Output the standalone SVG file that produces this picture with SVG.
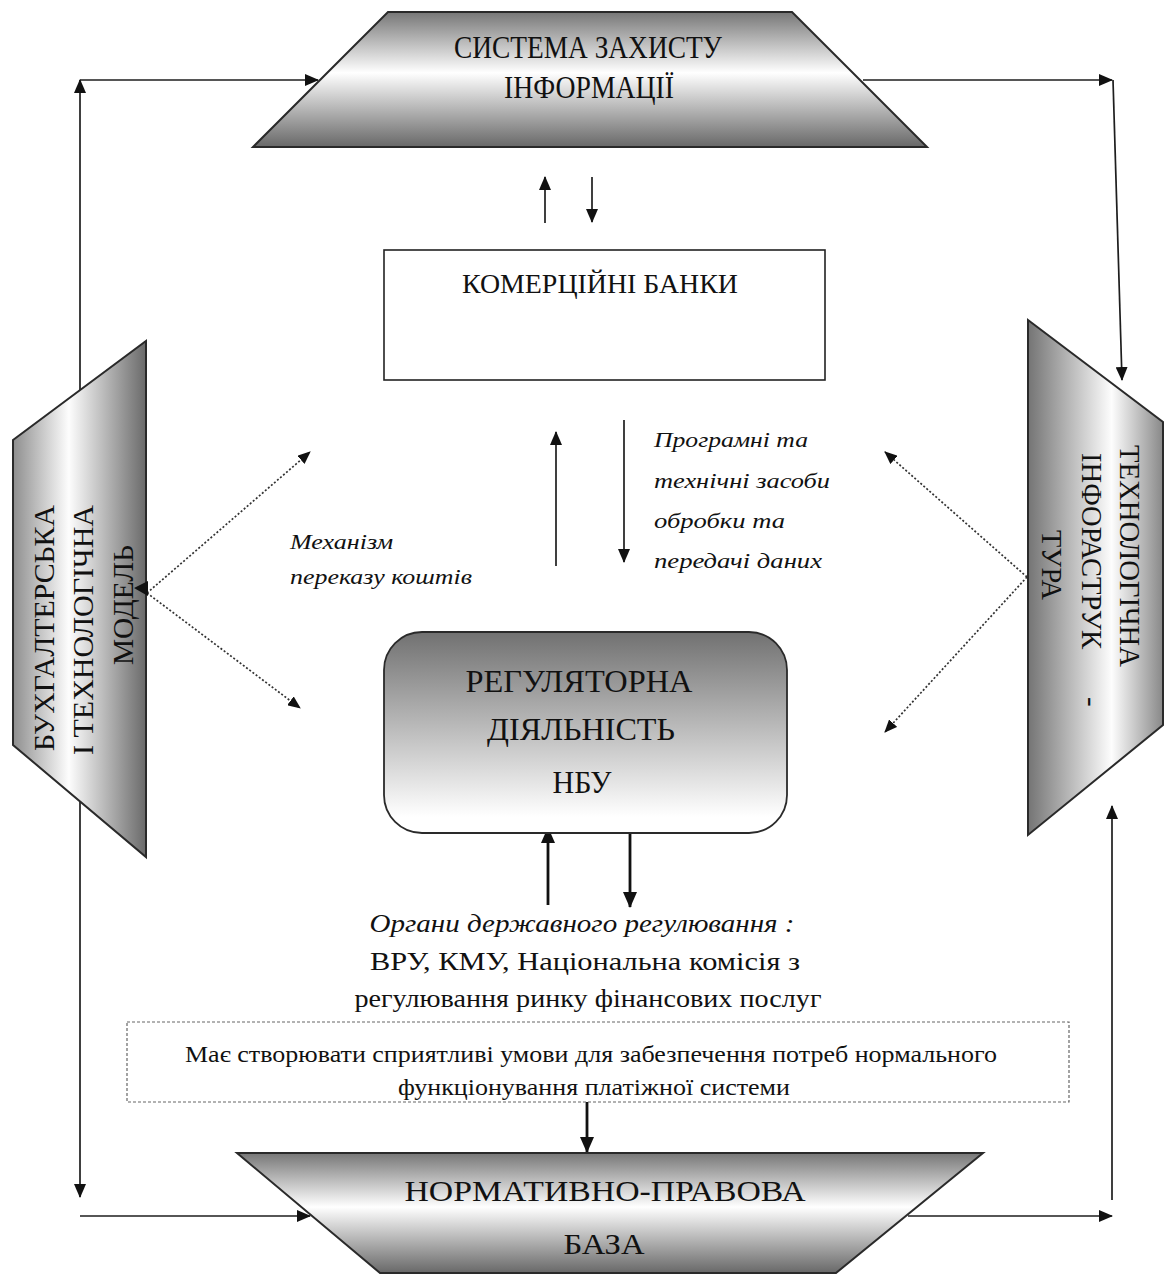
<svg xmlns="http://www.w3.org/2000/svg" width="1172" height="1276" viewBox="0 0 1172 1276" font-family="'Liberation Serif', 'Times New Roman', 'DejaVu Serif', serif">
<style>
.t{font-family:'Liberation Serif','Times New Roman','DejaVu Serif',serif;fill:#111}
.i{font-style:italic}
.ln{stroke:#1e1e1e;stroke-width:1.7;fill:none}
.bd{stroke:#111;stroke-width:2.8;fill:none}
.dot{stroke:#333;stroke-width:1.7;stroke-dasharray:2 2;fill:none}
.shp{stroke:#2a2a2a;stroke-width:2}
</style>
<defs>
<linearGradient id="gV" x1="0" y1="0" x2="0" y2="1">
<stop offset="0" stop-color="#777"/><stop offset="0.45" stop-color="#fff"/><stop offset="1" stop-color="#686868"/>
</linearGradient>
<linearGradient id="gL" x1="0" y1="0" x2="1" y2="0">
<stop offset="0" stop-color="#8e8e8e"/><stop offset="0.42" stop-color="#fdfdfd"/><stop offset="1" stop-color="#6a6a6a"/>
</linearGradient>
<linearGradient id="gR" x1="0" y1="0" x2="1" y2="0">
<stop offset="0" stop-color="#747474"/><stop offset="0.62" stop-color="#fdfdfd"/><stop offset="1" stop-color="#888"/>
</linearGradient>
<linearGradient id="gN" x1="0" y1="0" x2="0" y2="1">
<stop offset="0" stop-color="#717171"/><stop offset="0.92" stop-color="#fff"/><stop offset="1" stop-color="#fff"/>
</linearGradient>
<marker id="ah" viewBox="0 0 14 12" refX="13" refY="6" markerWidth="14" markerHeight="12" markerUnits="userSpaceOnUse" orient="auto">
<path d="M0,0 L14,6 L0,12 z" fill="#111"/>
</marker>
<marker id="ahb" viewBox="0 0 16 14" refX="15" refY="7" markerWidth="16" markerHeight="14" markerUnits="userSpaceOnUse" orient="auto">
<path d="M0,0 L16,7 L0,14 z" fill="#111"/>
</marker>
<marker id="ahd" viewBox="0 0 13 11" refX="12" refY="5.5" markerWidth="13" markerHeight="11" markerUnits="userSpaceOnUse" orient="auto">
<path d="M0,0 L13,5.5 L0,11 z" fill="#111"/>
</marker>
</defs>
<rect width="1172" height="1276" fill="#fff"/>

<g id="connectors">
<path class="ln" d="M80,390 L80,80" marker-end="url(#ah)"/>
<path class="ln" d="M80,80 L318,80" marker-end="url(#ah)"/>
<path class="ln" d="M863,80 L1112,80" marker-end="url(#ah)"/>
<path class="ln" d="M1113,80 L1122,380" marker-end="url(#ah)"/>
<path class="ln" d="M80,801 L80,1197" marker-end="url(#ah)"/>
<path class="ln" d="M80,1216 L310,1216" marker-end="url(#ah)"/>
<path class="ln" d="M1112,1200 L1112,806" marker-end="url(#ah)"/>
<path class="ln" d="M908,1216 L1112,1216" marker-end="url(#ah)"/>
<path class="ln" d="M545,223 L545,177" marker-end="url(#ah)"/>
<path class="ln" d="M592,177 L592,222" marker-end="url(#ah)"/>
<path class="ln" d="M556,566 L556,432" marker-end="url(#ah)"/>
<path class="ln" d="M624,420 L624,562" marker-end="url(#ah)"/>
<path class="bd" d="M548,905 L548,828" marker-end="url(#ahb)"/>
<path class="bd" d="M630,830 L630,907" marker-end="url(#ahb)"/>
<path class="bd" d="M587,1102 L587,1152" marker-end="url(#ahb)"/>
<path class="dot" d="M147,593 L310,452" marker-end="url(#ahd)"/>
<path class="dot" d="M147,593 L300,708" marker-end="url(#ahd)"/>
<path class="dot" d="M1027,577 L885,452" marker-end="url(#ahd)"/>
<path class="dot" d="M1027,577 L885,732" marker-end="url(#ahd)"/>
</g>

<g id="node-zakhyst">
<polygon class="shp" points="388,12 792,12 927,147 253,147" fill="url(#gV)"/>
<text class="t" x="588" y="58" font-size="31" text-anchor="middle" textLength="268" lengthAdjust="spacingAndGlyphs">СИСТЕМА ЗАХИСТУ</text>
<text class="t" x="589" y="98" font-size="31" text-anchor="middle" textLength="170" lengthAdjust="spacingAndGlyphs">ІНФОРМАЦІЇ</text>
</g>

<g id="node-banky">
<rect x="384" y="250" width="441" height="130" fill="#fff" stroke="#222" stroke-width="1.6"/>
<text class="t" x="600" y="293" font-size="27" text-anchor="middle" textLength="276" lengthAdjust="spacingAndGlyphs">КОМЕРЦІЙНІ БАНКИ</text>
</g>

<g id="node-bukh">
<polygon class="shp" points="13,440 146,341 146,857 13,745" fill="url(#gL)"/>
<text class="t" transform="translate(54,628) rotate(-90)" font-size="29" text-anchor="middle" textLength="246" lengthAdjust="spacingAndGlyphs">БУХГАЛТЕРСЬКА</text>
<text class="t" transform="translate(93,630) rotate(-90)" font-size="29" text-anchor="middle" textLength="250" lengthAdjust="spacingAndGlyphs">І ТЕХНОЛОГІЧНА</text>
<text class="t" transform="translate(133,605) rotate(-90)" font-size="29" text-anchor="middle" textLength="120" lengthAdjust="spacingAndGlyphs">МОДЕЛЬ</text>
</g>

<g id="node-tekhno">
<polygon class="shp" points="1028,320 1163,422 1163,725 1028,835" fill="url(#gR)"/>
<text class="t" transform="translate(1120,556) rotate(90)" font-size="29" text-anchor="middle" textLength="222" lengthAdjust="spacingAndGlyphs">ТЕХНОЛОГІЧНА</text>
<text class="t" transform="translate(1082,453) rotate(90)" font-size="29"><tspan textLength="196" lengthAdjust="spacingAndGlyphs">ІНФОРАСТРУК</tspan><tspan x="244">-</tspan></text>
<text class="t" transform="translate(1042,565) rotate(90)" font-size="29" text-anchor="middle" textLength="70" lengthAdjust="spacingAndGlyphs">ТУРА</text>
</g>

<g id="node-nbu">
<rect x="384" y="632" width="403" height="201" rx="38" ry="38" fill="url(#gN)" stroke="#2a2a2a" stroke-width="1.8"/>
<text class="t" x="579" y="692" font-size="31" text-anchor="middle" textLength="227" lengthAdjust="spacingAndGlyphs">РЕГУЛЯТОРНА</text>
<text class="t" x="581" y="740" font-size="31" text-anchor="middle" textLength="188" lengthAdjust="spacingAndGlyphs">ДІЯЛЬНІСТЬ</text>
<text class="t" x="582" y="793" font-size="31" text-anchor="middle" textLength="59" lengthAdjust="spacingAndGlyphs">НБУ</text>
</g>

<g id="labels">
<text class="t i" x="654" y="447" font-size="21" textLength="154" lengthAdjust="spacingAndGlyphs">Програмні та</text>
<text class="t i" x="654" y="488" font-size="21" textLength="176" lengthAdjust="spacingAndGlyphs">технічні засоби</text>
<text class="t i" x="654" y="528" font-size="21" textLength="131" lengthAdjust="spacingAndGlyphs">обробки та</text>
<text class="t i" x="654" y="568" font-size="21" textLength="168" lengthAdjust="spacingAndGlyphs">передачі даних</text>
<text class="t i" x="290" y="549" font-size="21" textLength="103" lengthAdjust="spacingAndGlyphs">Механізм</text>
<text class="t i" x="290" y="584" font-size="21" textLength="182" lengthAdjust="spacingAndGlyphs">переказу коштів</text>
</g>

<g id="node-organy">
<text class="t i" x="582" y="932" font-size="25" text-anchor="middle" textLength="425" lengthAdjust="spacingAndGlyphs">Органи державного регулювання :</text>
<text class="t" x="585" y="970" font-size="25" text-anchor="middle" textLength="430" lengthAdjust="spacingAndGlyphs">ВРУ, КМУ, Національна комісія з</text>
<text class="t" x="588" y="1007" font-size="25" text-anchor="middle" textLength="467" lengthAdjust="spacingAndGlyphs">регулювання ринку фінансових послуг</text>
</g>

<g id="node-umovy">
<rect x="127" y="1022" width="942" height="80" fill="#fff" stroke="#666" stroke-width="1.2" stroke-dasharray="3 2"/>
<text class="t" x="591" y="1062" font-size="23" text-anchor="middle" textLength="812" lengthAdjust="spacingAndGlyphs">Має створювати сприятливі умови для забезпечення потреб нормального</text>
<text class="t" x="594" y="1095" font-size="23" text-anchor="middle" textLength="392" lengthAdjust="spacingAndGlyphs">функціонування платіжної системи</text>
</g>

<g id="node-baza">
<polygon class="shp" points="237,1153 983,1153 836,1273 380,1273" fill="url(#gV)"/>
<text class="t" x="605" y="1201" font-size="30" text-anchor="middle" textLength="401" lengthAdjust="spacingAndGlyphs">НОРМАТИВНО-ПРАВОВА</text>
<text class="t" x="604" y="1254" font-size="30" text-anchor="middle" textLength="81" lengthAdjust="spacingAndGlyphs">БАЗА</text>
</g>

<g id="connector-head-junction">
<polygon points="134,588 148,581 148,596" fill="#111"/>
</g>
</svg>
